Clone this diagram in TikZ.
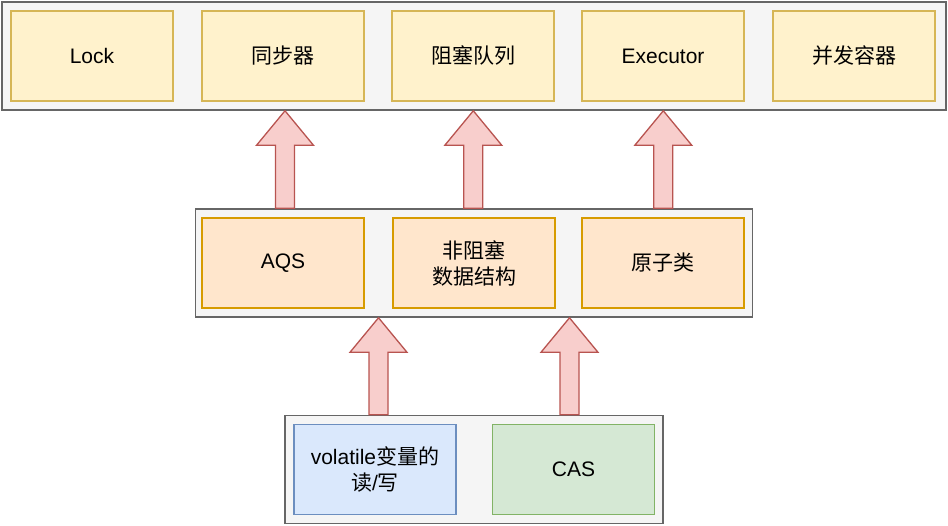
\documentclass[tikz,border=0pt]{standalone}
\usepackage{fontspec}
\setmainfont{Liberation Sans}
\newfontfamily\cjk{Noto Sans CJK SC}
\definecolor{ctfill}{HTML}{F5F5F5}
\definecolor{ctdraw}{HTML}{666666}
\definecolor{yfill}{HTML}{FFF2CC}
\definecolor{ydraw}{HTML}{D6B656}
\definecolor{ofill}{HTML}{FFE6CC}
\definecolor{odraw}{HTML}{D79B00}
\definecolor{bfill}{HTML}{DAE8FC}
\definecolor{bdraw}{HTML}{6C8EBF}
\definecolor{gfill}{HTML}{D5E8D4}
\definecolor{gdraw}{HTML}{82B366}
\definecolor{afill}{HTML}{F8CECC}
\definecolor{adraw}{HTML}{B85450}
\tikzset{
  container/.style={draw=ctdraw, fill=ctfill, line width=1.6pt, inner sep=0pt},
  cell/.style={line width=1.4pt, inner sep=0pt, minimum width=162pt, minimum height=90pt,
    align=center, font=\fontsize{21}{26}\selectfont},
  ycell/.style={cell, draw=ydraw, fill=yfill},
  ocell/.style={cell, draw=odraw, fill=ofill},
  bcell/.style={cell, draw=bdraw, fill=bfill},
  gcell/.style={cell, draw=gdraw, fill=gfill},
  bigarrow/.style={draw=adraw, fill=afill, line width=1.3pt, line join=miter},
}
\begin{document}
\begin{tikzpicture}[x=1pt,y=-1pt]
\useasboundingbox (0,0) rectangle (948,526);
% containers
\node[container, minimum width=944pt, minimum height=108pt] (top) at (474,56) {};
\node[container, minimum width=557pt, minimum height=108pt] (mid) at (473.8,263) {};
\node[container, minimum width=378pt, minimum height=108pt] (bot) at (474.2,469.5) {};
% top row
\node[ycell] (lock) at (92,56) {Lock};
\node[ycell] (sync) at (283,56) {\cjk 同步器};
\node[ycell] (bq) at (473,56) {\cjk 阻塞队列};
\node[ycell] (exec) at (663,56) {Executor};
\node[ycell] (cc) at (854,56) {\cjk 并发容器};
% middle row
\node[ocell] (aqs) at (283,263) {AQS};
\node[ocell] (nb) at (474,263) {\cjk 非阻塞\\\cjk 数据结构};
\node[ocell] (atom) at (663,263) {\cjk 原子类};
% bottom row
\node[bcell] (vol) at (375,469.5) {volatile{\cjk 变量的}\\{\cjk 读}/{\cjk 写}};
\node[gcell] (cas) at (573.5,469.5) {CAS};
% block arrows (tip at upper container, tail at lower container)
\foreach \cx/\ya/\yb in {285/top/mid, 473.3/top/mid, 663.3/top/mid, 378.5/mid/bot, 569.5/mid/bot}{
  \path (\cx,0) coordinate (a0);
  \draw[bigarrow] (\ya.south -| a0) -- ++(28.5,34.5) -- ++(-19,0) |- (\yb.north -| a0)
     -- ++(-9.5,0) |- ([xshift=-28.5pt,yshift=-34.5pt]\ya.south -| a0) -- cycle;
}
\end{tikzpicture}
\end{document}
